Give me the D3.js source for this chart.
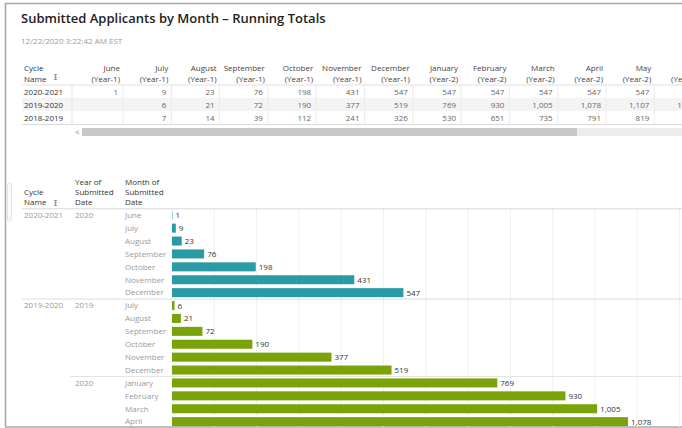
<!DOCTYPE html>
<html>
<head>
<meta charset="utf-8">
<script src="https://cdn.jsdelivr.net/npm/d3@7"></script>
<style>
  body { margin: 0; background: #fff; overflow: hidden; }
  svg text { font-family: "Open Sans", sans-serif; }
</style>
</head>
<body>
<svg id="chart" width="682" height="428"></svg>
<script>
// ---- top table data ----
const tableCycles = ["2020-2021", "2019-2020", "2018-2019"];
const tableMonths = ["June", "July", "August", "September", "October", "November", "December",
                     "January", "February", "March", "April", "May", "June"];
const tableYears = ["(Year-1)", "(Year-1)", "(Year-1)", "(Year-1)", "(Year-1)", "(Year-1)", "(Year-1)",
                    "(Year-2)", "(Year-2)", "(Year-2)", "(Year-2)", "(Year-2)", "(Year-2)"];
const values2021 = [1, 9, 23, 76, 198, 431, 547, 547, 547, 547, 547, 547, 547];
const values1920 = [null, 6, 21, 72, 190, 377, 519, 769, 930, 1005, 1078, 1107, 1126];
const values1819 = [null, 7, 14, 39, 112, 241, 326, 530, 651, 735, 791, 819, 840];

// ---- bar chart data ----
const months2020a = ["June", "July", "August", "September", "October", "November", "December"];
const bars2020a = [1, 9, 23, 76, 198, 431, 547];
const months2019b = ["July", "August", "September", "October", "November", "December"];
const bars2019b = [6, 21, 72, 190, 377, 519];
const months2020b = ["January", "February", "March", "April"];
const bars2020b = [769, 930, 1005, 1078];
const gridTicks = [100, 200, 300, 400, 500, 600, 700, 800, 900, 1000, 1100, 1200];

const teal = "#2a9ba6", green = "#7aa30a";
const fmt = d3.format(",");

const svg = d3.select("#chart");

// frame
svg.append("path")
  .attr("d", "M682,3.5 H5.5 V427")
  .attr("fill", "none").attr("stroke", "#a8a8a8").attr("stroke-width", 1.6);
svg.append("line").attr("x1", 5).attr("x2", 682).attr("y1", 427).attr("y2", 427)
  .attr("stroke", "#a8a8a8").attr("stroke-width", 1.6);

// title
svg.append("text").attr("x", 21).attr("y", 23)
  .attr("font-size", 13).attr("font-weight", 600).attr("fill", "#222")
  .text("Submitted Applicants by Month \u2013 Running Totals");
svg.append("text").attr("x", 21).attr("y", 44)
  .attr("font-size", 8).attr("fill", "#999")
  .text("12/22/2020 3:22:42 AM EST");

// sort icon helper
function sortIcon(x, y) {
  const g = svg.append("g").attr("transform", `translate(${x},${y})`)
    .attr("stroke", "#888").attr("stroke-width", 0.8);
  g.append("line").attr("x1", 1.5).attr("x2", 1.5).attr("y1", 0).attr("y2", 6);
  g.append("line").attr("x1", 0).attr("x2", 3).attr("y1", 0.5).attr("y2", 0.5);
  g.append("line").attr("x1", 0).attr("x2", 3).attr("y1", 3).attr("y2", 3);
  g.append("line").attr("x1", 0).attr("x2", 3).attr("y1", 5.5).attr("y2", 5.5);
}

// ================= top table =================
const colX = d3.scaleLinear().domain([0, tableMonths.length - 1]).range([120, 120 + 48.3 * 12]);
const rowY = d3.scaleBand().domain(d3.range(3)).range([85, 124]);
const tableRows = [values2021, values1920, values1819];

const tbl = svg.append("g");
tbl.append("rect").attr("x", 22).attr("y", rowY(1)).attr("width", 660).attr("height", rowY.bandwidth())
  .attr("fill", "#f4f4f4");
tbl.selectAll("line.vsep").data(d3.range(tableMonths.length)).join("line")
  .attr("x1", i => colX(i) + 3).attr("x2", i => colX(i) + 3)
  .attr("y1", 85).attr("y2", 124).attr("stroke", "#ececec");
tbl.append("line").attr("x1", 72).attr("x2", 72).attr("y1", 85).attr("y2", 124).attr("stroke", "#e4e4e4");
tbl.append("line").attr("x1", 22).attr("x2", 682).attr("y1", 85).attr("y2", 85).attr("stroke", "#e0e0e0");
tbl.append("line").attr("x1", 22).attr("x2", 682).attr("y1", 124.5).attr("y2", 124.5).attr("stroke", "#d8d8d8");

tbl.append("text").attr("x", 24).attr("y", 71).attr("font-size", 8).attr("fill", "#333").text("Cycle");
tbl.append("text").attr("x", 24).attr("y", 82).attr("font-size", 8).attr("fill", "#333").text("Name");
sortIcon(54, 74);

const heads = tbl.selectAll("g.head").data(tableMonths).join("g").attr("class", "head");
heads.append("text").attr("x", (d, i) => colX(i)).attr("y", 71)
  .attr("text-anchor", "end").attr("font-size", 8).attr("fill", "#4a4040").text(d => d);
heads.append("text").attr("x", (d, i) => colX(i)).attr("y", 82)
  .attr("text-anchor", "end").attr("font-size", 8).attr("fill", "#4a4040").text((d, i) => tableYears[i]);

tableRows.forEach((vals, r) => {
  const cy = rowY(r) + rowY.bandwidth() / 2 + 3;
  tbl.append("text").attr("x", 24).attr("y", cy).attr("font-size", 8).attr("fill", "#333").text(tableCycles[r]);
  tbl.append("g").selectAll("text").data(vals).join("text")
    .attr("x", (v, i) => colX(i) - 2).attr("y", cy)
    .attr("text-anchor", "end").attr("font-size", 8).attr("fill", "#666")
    .text(v => v == null ? "" : fmt(v));
});

// scrollbar
tbl.append("rect").attr("x", 82).attr("y", 128).attr("width", 600).attr("height", 8).attr("fill", "#ececec");
tbl.append("rect").attr("x", 82).attr("y", 128).attr("width", 495).attr("height", 8).attr("fill", "#c8c8c8");
tbl.append("text").attr("x", 75).attr("y", 135).attr("font-size", 8).attr("fill", "#777").text("<");

// ================= bar chart =================
const rows = [];
months2020a.forEach((m, i) => rows.push({ cycle: i === 0 ? "2020-2021" : "", year: i === 0 ? "2020" : "", month: m, value: bars2020a[i], color: teal }));
months2019b.forEach((m, i) => rows.push({ cycle: i === 0 ? "2019-2020" : "", year: i === 0 ? "2019" : "", month: m, value: bars2019b[i], color: green }));
months2020b.forEach((m, i) => rows.push({ cycle: "", year: i === 0 ? "2020" : "", month: m, value: bars2020b[i], color: green }));

const rowTop = 208.8, pitch = 12.9;
const y = d3.scaleBand().domain(d3.range(rows.length))
  .range([rowTop, rowTop + pitch * rows.length]).paddingInner(0.3).paddingOuter(0.15);
const x = d3.scaleLinear().domain([0, 1200]).range([172, 172 + 0.423 * 1200]);

const chart = svg.append("g");

// side panel handle
chart.append("rect").attr("x", 7.5).attr("y", 183).attr("width", 4).attr("height", 38).attr("rx", 2)
  .attr("fill", "#fafafa").attr("stroke", "#ddd").attr("stroke-width", 0.8);

// gridlines
chart.selectAll("line.grid").data(gridTicks).join("line")
  .attr("x1", d => x(d)).attr("x2", d => x(d))
  .attr("y1", rowTop).attr("y2", 427).attr("stroke", "#f0f0f0");

// headers
const hdr = [["Cycle", "Name"], ["Year of", "Submitted", "Date"], ["Month of", "Submitted", "Date"]];
const hdrX = [24, 75, 125];
hdr.forEach((lines, k) => {
  lines.forEach((t, j) => {
    chart.append("text").attr("x", hdrX[k]).attr("y", 205 - (lines.length - 1 - j) * 10)
      .attr("font-size", 8).attr("fill", "#333").text(t);
  });
});
sortIcon(54, 200);

chart.append("line").attr("x1", 22).attr("x2", 682).attr("y1", rowTop).attr("y2", rowTop).attr("stroke", "#d8d8d8");
const sep1 = rowTop + pitch * months2020a.length;
const sep2 = sep1 + pitch * months2019b.length;
chart.append("line").attr("x1", 22).attr("x2", 682).attr("y1", sep1).attr("y2", sep1).attr("stroke", "#dcdcdc");
chart.append("line").attr("x1", 70).attr("x2", 682).attr("y1", sep2).attr("y2", sep2).attr("stroke", "#e4e4e4");

const row = chart.selectAll("g.row").data(rows).join("g").attr("class", "row");
const mid = i => y(i) + y.bandwidth() / 2;

row.append("text").attr("x", 24).attr("y", (d, i) => mid(i) + 2.8)
  .attr("font-size", 8).attr("fill", "#999").text(d => d.cycle);
row.append("text").attr("x", 75).attr("y", (d, i) => mid(i) + 2.8)
  .attr("font-size", 8).attr("fill", "#999").text(d => d.year);
row.append("text").attr("x", 125).attr("y", (d, i) => mid(i) + 2.8)
  .attr("font-size", 8).attr("fill", "#999").text(d => d.month);

row.append("rect")
  .attr("x", x(0)).attr("y", (d, i) => y(i))
  .attr("width", d => x(d.value) - x(0)).attr("height", y.bandwidth())
  .attr("fill", d => d.color);

row.append("text").attr("x", d => x(d.value) + 3).attr("y", (d, i) => mid(i) + 3)
  .attr("font-size", 8).attr("fill", "#333").text(d => fmt(d.value));
</script>
</body>
</html>
